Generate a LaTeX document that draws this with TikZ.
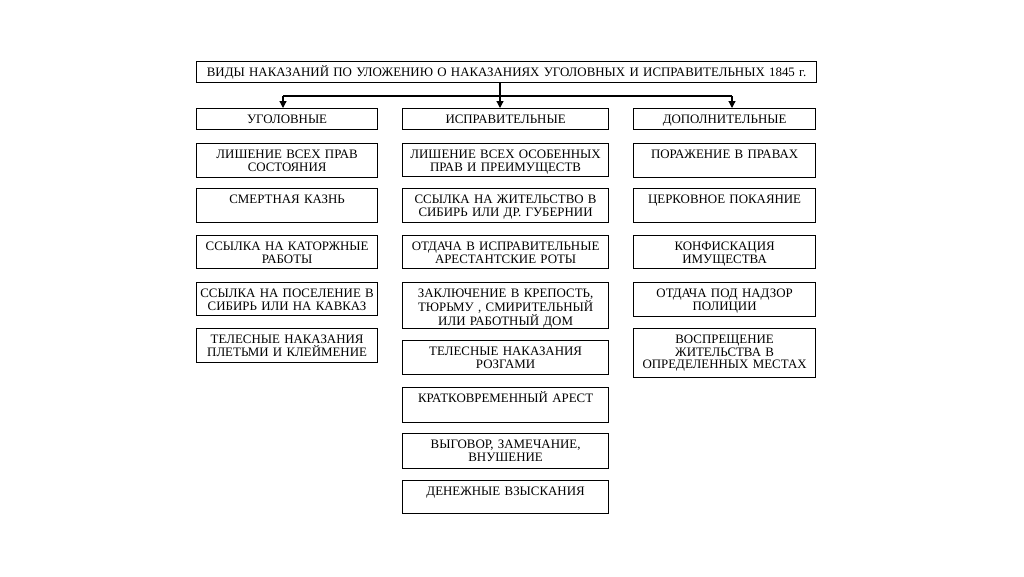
\documentclass[tikz,border=0pt]{standalone}
\usepackage{fontspec}
\setmainfont{Liberation Serif}
\usetikzlibrary{arrows.meta}
\begin{document}
\begin{tikzpicture}[x=1pt,y=-1pt,line join=miter,>={Triangle[length=7pt,width=7pt]},
    font=\fontsize{12.9}{12.6}\selectfont,
    box/.style={draw,line width=1.2pt,anchor=north west,inner xsep=1pt,inner ysep=0pt,
      text height=15pt,align=center},
    ugol/.style={box,text width=179pt},
    ispr/.style={box,text width=204pt},
    dop/.style={box,text width=180pt}]
  \useasboundingbox (0,0) rectangle (1024,576);
  % title and the three kinds
  \node[box,text width=618pt,text depth=6pt] (vid) at (196,61)
    {ВИДЫ НАКАЗАНИЙ ПО УЛОЖЕНИЮ О НАКАЗАНИЯХ УГОЛОВНЫХ И ИСПРАВИТЕЛЬНЫХ 1845 г.};
  \node[ugol,text depth=6pt] (ug) at (196,108) {УГОЛОВНЫЕ};
  \node[ispr,text depth=6pt] (is) at (402,108) {ИСПРАВИТЕЛЬНЫЕ};
  \node[dop,text depth=6pt] (dp) at (633,108) {ДОПОЛНИТЕЛЬНЫЕ};
  \coordinate (mid) at (500,96);
  \coordinate (left) at (283,96);
  \coordinate (right) at (732,96);
  \draw[line width=1.2pt] (left)--(right);
  \draw[line width=1.2pt,->] (vid.south -| mid)--(is.north -| mid);
  \draw[line width=1.2pt,->] (left)--(ug.north -| left);
  \draw[line width=1.2pt,->] (right)--(dp.north -| right);
  % columns
  \foreach \n/\yy/\hh/\txt in {1/143/19/{ЛИШЕНИЕ ВСЕХ ПРАВ\\СОСТОЯНИЯ},
      2/188/19/{СМЕРТНАЯ КАЗНЬ},
      3/235/18/{ССЫЛКА НА КАТОРЖНЫЕ\\РАБОТЫ},
      4/282/18/{ССЫЛКА НА ПОСЕЛЕНИЕ В\\СИБИРЬ ИЛИ НА КАВКАЗ},
      5/328/19/{ТЕЛЕСНЫЕ НАКАЗАНИЯ\\ПЛЕТЬМИ И КЛЕЙМЕНИЕ}}{
    \node[ugol,text depth=\hh pt] (ug\n) at (196,\yy) {\txt};}
  \foreach \n/\yy/\hh/\txt in {1/143/18/{ЛИШЕНИЕ ВСЕХ ОСОБЕННЫХ\\ПРАВ И ПРЕИМУЩЕСТВ},
      2/188/19/{ССЫЛКА НА ЖИТЕЛЬСТВО В\\СИБИРЬ ИЛИ ДР. ГУБЕРНИИ},
      3/235/18/{ОТДАЧА В ИСПРАВИТЕЛЬНЫЕ\\АРЕСТАНТСКИЕ РОТЫ},
      4/282/31/{ЗАКЛЮЧЕНИЕ В КРЕПОСТЬ,\\ТЮРЬМУ , СМИРИТЕЛЬНЫЙ\\ИЛИ РАБОТНЫЙ ДОМ},
      5/340/19/{ТЕЛЕСНЫЕ НАКАЗАНИЯ\\РОЗГАМИ},
      6/387/20/{КРАТКОВРЕМЕННЫЙ АРЕСТ},
      7/433/20/{ВЫГОВОР, ЗАМЕЧАНИЕ,\\ВНУШЕНИЕ},
      8/480/18/{ДЕНЕЖНЫЕ ВЗЫСКАНИЯ}}{
    \node[ispr,text depth=\hh pt] (is\n) at (402,\yy) {\txt};}
  \foreach \n/\yy/\hh/\txt in {1/143/19/{ПОРАЖЕНИЕ В ПРАВАХ},
      2/188/19/{ЦЕРКОВНОЕ ПОКАЯНИЕ},
      3/235/18/{КОНФИСКАЦИЯ\\ИМУЩЕСТВА},
      4/282/19/{ОТДАЧА ПОД НАДЗОР\\ПОЛИЦИИ},
      5/328/34/{ВОСПРЕЩЕНИЕ\\ЖИТЕЛЬСТВА В\\ОПРЕДЕЛЕННЫХ МЕСТАХ}}{
    \node[dop,text depth=\hh pt] (dp\n) at (633,\yy) {\txt};}
\end{tikzpicture}
\end{document}
